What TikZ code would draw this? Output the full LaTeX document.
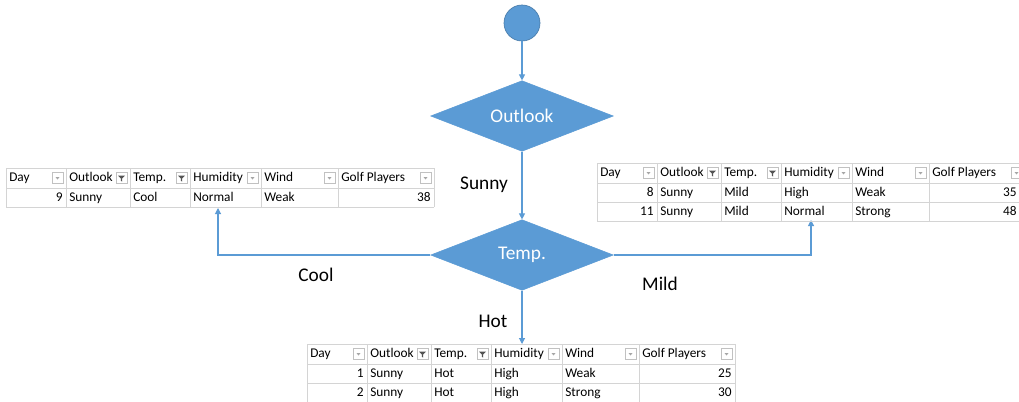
\documentclass[tikz,border=0pt]{standalone}
\usepackage{fontspec}
\setmainfont{Carlito}
\usetikzlibrary{shapes.geometric,arrows.meta}
\definecolor{flowblue}{HTML}{5B9BD5}
\definecolor{gridgray}{HTML}{D4D4D4}
\definecolor{btngray}{HTML}{A6A6A6}
\tikzset{
  flow/.style={draw=flowblue, line width=0.8pt, -{Triangle[length=4.5pt,width=4.5pt]}},
  decision/.style={diamond, aspect=2.6, fill=flowblue, draw=flowblue, inner sep=0pt,
    minimum width=137pt, minimum height=53pt, text=white, font=\fontsize{14.5}{17}\selectfont},
  startnode/.style={circle, fill=flowblue, draw=flowblue!80!black, line width=0.5pt, minimum size=27pt, inner sep=0pt},
  branch/.style={font=\fontsize{14.5}{17}\selectfont, inner sep=0pt},
  grid/.style={draw=gridgray, line width=0.6pt},
  celltext/.style={font=\fontsize{10}{12}\selectfont, inner sep=0pt, text height=7pt, text depth=2pt},
  btn/.style={draw=btngray!70, fill=white, line width=0.4pt},
}
% right edge of the numbers in the last column
\newcommand\golfedge{425}
% header of a filtered table: grid, column titles and drop-down buttons
\newcommand\sheetframe[2]{% #1 name, #2 number of data rows
  \pgfmathsetmacro\bot{20+19*#2}
  \foreach \c in {0,60,124,184,255,332,428} \draw[grid] (\c,0) -- (\c,\bot);
  \draw[grid] (0,0) -- (428,0);
  \foreach \r in {0,...,#2} \draw[grid] (0,20+19*\r) -- (428,20+19*\r);
  \foreach \c/\t/\n in {0/Day/a,60/Outlook/b,124/Temp./c,184/Humidity/d,255/Wind/e,332/Golf Players/f}
    \node[celltext, anchor=west] (#1-h\n) at (\c+3,10.5) {\t};
  \foreach \r in {60,124,184,255,332,428} {
    \draw[btn] (\r-14,4.5) rectangle (\r-3,15.5);
  }
  % plain drop-down arrows
  \foreach \r in {60,255,332,428}
    \fill[btngray] (\r-10.5,9) -- (\r-6.5,9) -- (\r-8.5,11.5) -- cycle;
  % filter funnels on the filtered columns
  \foreach \r in {124,184} {
    \fill[btngray!50!black] (\r-12,7.5) -- (\r-5,7.5) -- (\r-7.8,10.5) -- (\r-7.8,13.5) -- (\r-9.2,12.8) -- (\r-9.2,10.5) -- cycle;
  }
}
\newcommand\sheetrow[8]{% #1 name, #2 row, #3..#8 cells
  \pgfmathsetmacro\ym{20+19*(#2-1)+10}
  \node[celltext, anchor=east] (#1-r#2a) at (57,\ym) {#3};
  \node[celltext, anchor=west] (#1-r#2b) at (63,\ym) {#4};
  \node[celltext, anchor=west] (#1-r#2c) at (127,\ym) {#5};
  \node[celltext, anchor=west] (#1-r#2d) at (187,\ym) {#6};
  \node[celltext, anchor=west] (#1-r#2e) at (258,\ym) {#7};
  \node[celltext, anchor=east] (#1-r#2f) at (\golfedge,\ym) {#8};
}
\begin{document}
\begin{tikzpicture}[x=0.75pt, y=-0.75pt]
  \clip (0,0) rectangle (1019,401);
  \fill[white] (0,0) rectangle (1019,401);

  % decision flow
  \node[startnode] (start) at (522,23) {};
  \node[decision] (outlook) at (522,116) {Outlook};
  \node[decision] (temp) at (522,255) {Temp.};

  % table anchors
  \coordinate (cooltab) at (218,208);
  \coordinate (mildtab) at (811,220);
  \coordinate (hottab) at (522,344);

  \draw[flow] (start) -- (outlook);
  \draw[flow] (outlook) -- (temp);
  \draw[flow] (temp.west) -| (cooltab);
  \draw[flow] (temp.east) -| (mildtab);
  \draw[flow] (temp.south) -- (hottab);

  \node[branch] (sunny) at (484,185) {Sunny};
  \node[branch] (cool) at (316,275) {Cool};
  \node[branch] (mild) at (660,284) {Mild};
  \node[branch] (hot) at (493,321) {Hot};

  % Cool subset
  \begin{scope}[shift={(6,168)}]
    \sheetframe{cl}{1}
    \sheetrow{cl}{1}{9}{Sunny}{Cool}{Normal}{Weak}{38}
  \end{scope}

  % Mild subset
  \begin{scope}[shift={(597,163)}]
    \renewcommand\golfedge{420}
    \sheetframe{md}{2}
    \sheetrow{md}{1}{8}{Sunny}{Mild}{High}{Weak}{35}
    \sheetrow{md}{2}{11}{Sunny}{Mild}{Normal}{Strong}{48}
  \end{scope}

  % Hot subset
  \begin{scope}[shift={(307,344)}]
    \sheetframe{ht}{2}
    \sheetrow{ht}{1}{1}{Sunny}{Hot}{High}{Weak}{25}
    \sheetrow{ht}{2}{2}{Sunny}{Hot}{High}{Strong}{30}
  \end{scope}
\end{tikzpicture}
\end{document}
